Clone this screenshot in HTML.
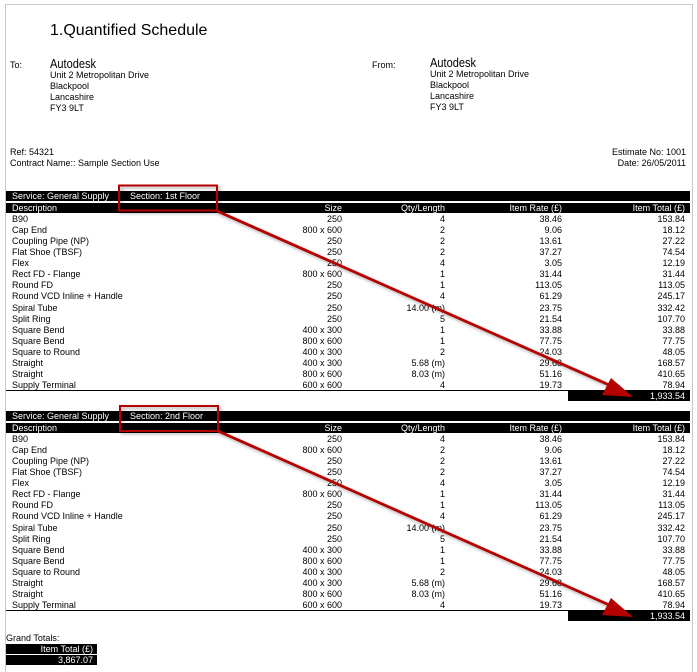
<!DOCTYPE html>
<html style="width:697px;height:672px;overflow:hidden"><head><meta charset="utf-8"><style>
*{margin:0;padding:0;box-sizing:border-box}
body{width:697px;height:672px;background:#fff;position:relative;overflow:hidden;font-family:"Liberation Sans",Arial,sans-serif;color:#000}
.a{position:absolute;white-space:nowrap}
.s{font-size:9px;line-height:11px}
.bar{position:absolute;background:#000;color:#fff;font-size:9px;line-height:10px;height:10px}
.rows{position:absolute;left:0;width:697px}
.r{position:relative;height:11.13px;font-size:9px;line-height:11px}
.r span{position:absolute;top:0;white-space:nowrap}
.d{left:12px}.z{right:355px}.q{right:252px}.t{right:135px}.o{right:12px}
.hb span{position:absolute;top:0;white-space:nowrap}
</style></head><body>
<div class="a" style="left:5px;top:4px;width:688px;height:668px;border:1px solid #c8c8c8;border-bottom:none"></div>
<div class="a" style="left:50px;top:21px;font-size:16px;line-height:20px">1.Quantified Schedule</div>
<div class="a s" style="left:10px;top:60px">To:</div>
<div class="a" style="left:50px;top:56px;font-size:13px;line-height:16px;transform:scaleX(0.85);transform-origin:left">Autodesk</div>
<div class="a s" style="left:50px;top:70px">Unit 2 Metropolitan Drive<br>Blackpool<br>Lancashire<br>FY3 9LT</div>
<div class="a s" style="left:372px;top:60px">From:</div>
<div class="a" style="left:430px;top:55px;font-size:13px;line-height:16px;transform:scaleX(0.85);transform-origin:left">Autodesk</div>
<div class="a s" style="left:430px;top:69px">Unit 2 Metropolitan Drive<br>Blackpool<br>Lancashire<br>FY3 9LT</div>
<div class="a s" style="left:10px;top:147px">Ref: 54321<br>Contract Name:: Sample Section Use</div>
<div class="a s" style="right:11px;top:147px;text-align:right">Estimate No: 1001<br>Date: 26/05/2011</div>

<!-- Section 1 -->
<div class="bar" style="left:6px;top:191px;width:684px"><span class="a" style="left:6px">Service: General Supply</span><span class="a" style="left:124px">Section: 1st Floor</span></div>
<div class="bar hb" style="left:6px;top:203px;width:684px"><span style="left:6px">Description</span><span style="right:348px">Size</span><span style="right:245px">Qty/Length</span><span style="right:128px">Item Rate (£)</span><span style="right:5px">Item Total (£)</span></div>
<div class="rows" style="top:213.5px">
<div class="r"><span class="d">B90</span><span class="z">250</span><span class="q">4</span><span class="t">38.46</span><span class="o">153.84</span></div>
<div class="r"><span class="d">Cap End</span><span class="z">800 x 600</span><span class="q">2</span><span class="t">9.06</span><span class="o">18.12</span></div>
<div class="r"><span class="d">Coupling Pipe (NP)</span><span class="z">250</span><span class="q">2</span><span class="t">13.61</span><span class="o">27.22</span></div>
<div class="r"><span class="d">Flat Shoe (TBSF)</span><span class="z">250</span><span class="q">2</span><span class="t">37.27</span><span class="o">74.54</span></div>
<div class="r"><span class="d">Flex</span><span class="z">250</span><span class="q">4</span><span class="t">3.05</span><span class="o">12.19</span></div>
<div class="r"><span class="d">Rect FD - Flange</span><span class="z">800 x 600</span><span class="q">1</span><span class="t">31.44</span><span class="o">31.44</span></div>
<div class="r"><span class="d">Round FD</span><span class="z">250</span><span class="q">1</span><span class="t">113.05</span><span class="o">113.05</span></div>
<div class="r"><span class="d">Round VCD Inline + Handle</span><span class="z">250</span><span class="q">4</span><span class="t">61.29</span><span class="o">245.17</span></div>
<div class="r"><span class="d">Spiral Tube</span><span class="z">250</span><span class="q">14.00 (m)</span><span class="t">23.75</span><span class="o">332.42</span></div>
<div class="r"><span class="d">Split Ring</span><span class="z">250</span><span class="q">5</span><span class="t">21.54</span><span class="o">107.70</span></div>
<div class="r"><span class="d">Square Bend</span><span class="z">400 x 300</span><span class="q">1</span><span class="t">33.88</span><span class="o">33.88</span></div>
<div class="r"><span class="d">Square Bend</span><span class="z">800 x 600</span><span class="q">1</span><span class="t">77.75</span><span class="o">77.75</span></div>
<div class="r"><span class="d">Square to Round</span><span class="z">400 x 300</span><span class="q">2</span><span class="t">24.03</span><span class="o">48.05</span></div>
<div class="r"><span class="d">Straight</span><span class="z">400 x 300</span><span class="q">5.68 (m)</span><span class="t">29.68</span><span class="o">168.57</span></div>
<div class="r"><span class="d">Straight</span><span class="z">800 x 600</span><span class="q">8.03 (m)</span><span class="t">51.16</span><span class="o">410.65</span></div>
<div class="r"><span class="d">Supply Terminal</span><span class="z">600 x 600</span><span class="q">4</span><span class="t">19.73</span><span class="o">78.94</span></div>
</div>
<div class="a" style="left:6px;top:390px;width:684px;height:1px;background:#000"></div>
<div class="bar" style="left:568px;top:390.5px;width:122px;text-align:right;padding-right:5px">1,933.54</div>

<!-- Section 2 -->
<div class="bar" style="left:6px;top:411px;width:684px"><span class="a" style="left:6px">Service: General Supply</span><span class="a" style="left:124px">Section: 2nd Floor</span></div>
<div class="bar hb" style="left:6px;top:423px;width:684px"><span style="left:6px">Description</span><span style="right:348px">Size</span><span style="right:245px">Qty/Length</span><span style="right:128px">Item Rate (£)</span><span style="right:5px">Item Total (£)</span></div>
<div class="rows" style="top:433.5px">
<div class="r"><span class="d">B90</span><span class="z">250</span><span class="q">4</span><span class="t">38.46</span><span class="o">153.84</span></div>
<div class="r"><span class="d">Cap End</span><span class="z">800 x 600</span><span class="q">2</span><span class="t">9.06</span><span class="o">18.12</span></div>
<div class="r"><span class="d">Coupling Pipe (NP)</span><span class="z">250</span><span class="q">2</span><span class="t">13.61</span><span class="o">27.22</span></div>
<div class="r"><span class="d">Flat Shoe (TBSF)</span><span class="z">250</span><span class="q">2</span><span class="t">37.27</span><span class="o">74.54</span></div>
<div class="r"><span class="d">Flex</span><span class="z">250</span><span class="q">4</span><span class="t">3.05</span><span class="o">12.19</span></div>
<div class="r"><span class="d">Rect FD - Flange</span><span class="z">800 x 600</span><span class="q">1</span><span class="t">31.44</span><span class="o">31.44</span></div>
<div class="r"><span class="d">Round FD</span><span class="z">250</span><span class="q">1</span><span class="t">113.05</span><span class="o">113.05</span></div>
<div class="r"><span class="d">Round VCD Inline + Handle</span><span class="z">250</span><span class="q">4</span><span class="t">61.29</span><span class="o">245.17</span></div>
<div class="r"><span class="d">Spiral Tube</span><span class="z">250</span><span class="q">14.00 (m)</span><span class="t">23.75</span><span class="o">332.42</span></div>
<div class="r"><span class="d">Split Ring</span><span class="z">250</span><span class="q">5</span><span class="t">21.54</span><span class="o">107.70</span></div>
<div class="r"><span class="d">Square Bend</span><span class="z">400 x 300</span><span class="q">1</span><span class="t">33.88</span><span class="o">33.88</span></div>
<div class="r"><span class="d">Square Bend</span><span class="z">800 x 600</span><span class="q">1</span><span class="t">77.75</span><span class="o">77.75</span></div>
<div class="r"><span class="d">Square to Round</span><span class="z">400 x 300</span><span class="q">2</span><span class="t">24.03</span><span class="o">48.05</span></div>
<div class="r"><span class="d">Straight</span><span class="z">400 x 300</span><span class="q">5.68 (m)</span><span class="t">29.68</span><span class="o">168.57</span></div>
<div class="r"><span class="d">Straight</span><span class="z">800 x 600</span><span class="q">8.03 (m)</span><span class="t">51.16</span><span class="o">410.65</span></div>
<div class="r"><span class="d">Supply Terminal</span><span class="z">600 x 600</span><span class="q">4</span><span class="t">19.73</span><span class="o">78.94</span></div>
</div>
<div class="a" style="left:6px;top:610px;width:684px;height:1px;background:#000"></div>
<div class="bar" style="left:568px;top:610.5px;width:122px;text-align:right;padding-right:5px">1,933.54</div>

<div class="a s" style="left:6px;top:633px">Grand Totals:</div>
<div class="bar" style="left:6px;top:644px;width:91px;text-align:right;padding-right:4px">Item Total (£)</div>
<div class="bar" style="left:6px;top:655px;width:91px;text-align:right;padding-right:4px">3,867.07</div>

<svg class="a" style="left:0;top:0" width="697" height="672">
<defs><filter id="sh" x="-10%" y="-20%" width="130%" height="160%"><feDropShadow dx="2" dy="2" stdDeviation="1.5" flood-opacity="0.35"/></filter></defs>
<g fill="none" stroke="#b50000" stroke-width="2" filter="url(#sh)">
<rect x="119" y="185.5" width="98" height="25"/>
<rect x="120" y="406" width="98" height="25"/>
</g>
<g stroke="#b50000" stroke-width="2.8" filter="url(#sh)">
<line x1="217" y1="211" x2="616" y2="388"/>
<line x1="218" y1="431" x2="616" y2="608"/>
</g>
<g fill="#b50000">
<polygon points="633,397 611,378 602,395"/>
<polygon points="633,617 611,598 602,615"/>
</g>
</svg>
</body></html>
